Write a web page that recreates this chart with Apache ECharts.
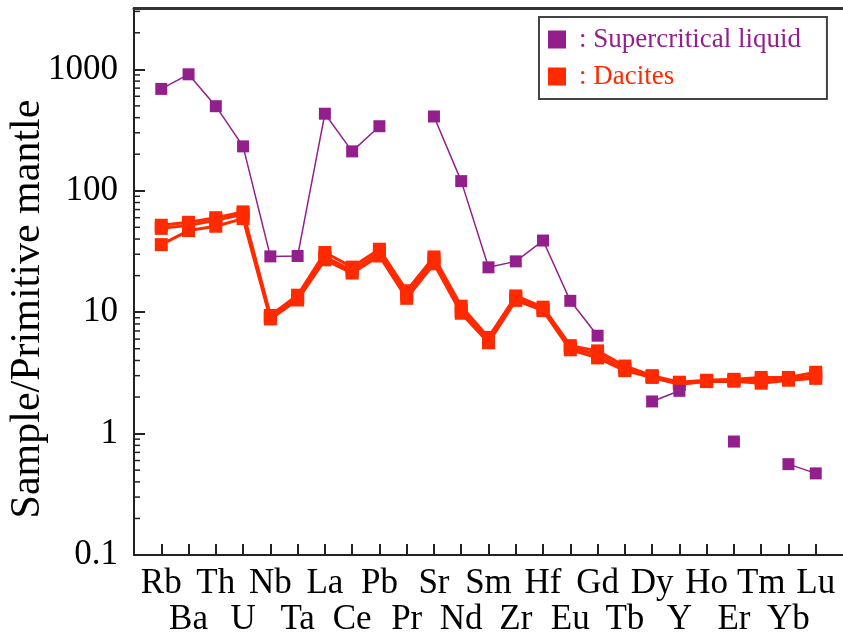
<!DOCTYPE html>
<html>
<head>
<meta charset="utf-8">
<script src="https://cdn.jsdelivr.net/npm/echarts@6/dist/echarts.min.js"></script>
<style>
html,body{margin:0;padding:0;background:#fff;}
#chart{width:843px;height:637px;}
</style>
</head>
<body>
<div id="chart"></div>
<script>
const elements = ['Rb','Ba','Th','U','Nb','Ta','La','Ce','Pb','Pr','Sr','Nd','Sm','Zr','Hf','Eu','Gd','Tb','Dy','Y','Ho','Er','Tm','Yb','Lu'];
const supercritical = [690, 910, 497, 232, 28.8, 29, 431, 211, 340, null, 409, 120, 23.4, 26.2, 38.9, 12.4, 6.4, null, 1.84, 2.25, null, 0.86, null, 0.56, 0.47];
const daciteA = [52, 55, 60, 67, 9.4, 13.8, 31, 23.5, 33, 15, 28.5, 11.2, 6.2, 13.6, 11, 5.3, 4.8, 3.6, 3.0, 2.65, 2.75, 2.8, 2.9, 2.9, 3.2];
const daciteB = [49, 52, 57, 64, 9.1, 13.2, 28.5, 22, 31, 14, 27, 10.3, 5.9, 13, 10.6, 5.1, 4.5, 3.4, 2.95, 2.6, 2.7, 2.75, 2.75, 2.8, 3.0];
const daciteC = [36, 47, 51, 59, 8.8, 12.6, 27, 21, 29, 13, 25, 9.8, 5.6, 12.5, 10.3, 4.9, 4.2, 3.3, 2.9, 2.55, 2.68, 2.7, 2.6, 2.75, 2.85];
const yMajorTicks = [0.1, 1, 10, 100, 1000];
const yMinorTicks = [0.2,0.3,0.4,0.5,0.6,0.7,0.8,0.9, 2,3,4,5,6,7,8,9, 20,30,40,50,60,70,80,90, 200,300,400,500,600,700,800,900, 2000,3000];

const PURPLE = '#931F8D';
const RED = '#FF2A00';
const AXIS = '#222';
const FONT = 'Liberation Serif';

const toPairs = arr => arr.map((v, i) => [i, v]);

const chart = echarts.init(document.getElementById('chart'), null, {renderer: 'canvas'});

const dacite = (data) => ({
  name: 'Dacites', type: 'line', data: toPairs(data),
  symbol: 'rect', symbolSize: 13, connectNulls: false,
  itemStyle: {color: RED}, lineStyle: {color: RED, width: 3}, z: 3
});

const idx = elements.map((e, i) => i);
const evenIdx = idx.filter(i => i % 2 === 0);
const oddIdx = idx.filter(i => i % 2 === 1);
const labelFmt = v => { const i = Math.round(v); return (i >= 0 && i < elements.length) ? elements[i] : ''; };
const labelStyle = {fontFamily: FONT, fontSize: 35, color: '#000', showMinLabel: true, showMaxLabel: true, hideOverlap: false, formatter: labelFmt};

chart.setOption({
  animation: false,
  grid: {left: 134, right: 0, top: 8, bottom: 82, containLabel: false},
  xAxis: [{
    type: 'value', min: -1, max: 25, interval: 1,
    axisLine: {show: true, onZero: false, lineStyle: {color: AXIS, width: 2}},
    axisTick: {show: true, inside: true, length: 11, lineStyle: {color: AXIS, width: 2}, customValues: idx},
    axisLabel: Object.assign({customValues: evenIdx, margin: 11}, labelStyle),
    splitLine: {show: false}
  }, {
    type: 'value', min: -1, max: 25, position: 'bottom',
    axisLine: {show: false}, axisTick: {show: false},
    axisLabel: Object.assign({customValues: oddIdx, margin: 47}, labelStyle),
    splitLine: {show: false}
  }, {
    type: 'value', min: -1, max: 25, position: 'top',
    axisLine: {show: true, onZero: false, lineStyle: {color: '#333', width: 3}},
    axisTick: {show: false}, axisLabel: {show: false}, splitLine: {show: false}
  }],
  yAxis: {
    type: 'log', logBase: 10, min: 0.1, max: 3200,
    axisLine: {show: true, onZero: false, lineStyle: {color: AXIS, width: 2}},
    axisTick: {show: true, inside: true, length: 11, lineStyle: {color: AXIS, width: 2}, customValues: yMajorTicks},
    axisLabel: {
      customValues: yMajorTicks,
      margin: 16, fontFamily: FONT, fontSize: 35, color: '#000',
      formatter: v => String(v)
    },
    splitLine: {show: false}, minorTick: {show: false}
  },
  legend: {
    data: [
      {name: 'Supercritical liquid', textStyle: {color: PURPLE}},
      {name: 'Dacites', textStyle: {color: RED}}
    ],
    orient: 'vertical', left: 539, top: 17,
    icon: 'rect', itemWidth: 18, itemHeight: 18, itemGap: 10,
    padding: [9, 26, 9, 9],
    borderColor: '#444', borderWidth: 2, backgroundColor: '#fff',
    formatter: name => ': ' + name,
    textStyle: {fontFamily: FONT, fontSize: 27, padding: [0, 0, 0, 8]},
    selectedMode: false
  },
  graphic: [{
    type: 'text', x: 28, y: 309, rotation: Math.PI / 2,
    style: {text: 'Sample/Primitive mantle', fontFamily: FONT, fontSize: 42, fill: '#000', align: 'center', verticalAlign: 'middle'}
  }],
  series: [
    {
      type: 'custom', name: 'minorTicks', silent: true,
      data: yMinorTicks.map(v => [-1, v]),
      renderItem: (params, api) => {
        const p = api.coord([api.value(0), api.value(1)]);
        return {type: 'line', shape: {x1: p[0], y1: p[1], x2: p[0] + 6, y2: p[1]}, style: {stroke: AXIS, lineWidth: 1.5}};
      }
    },
    dacite(daciteA), dacite(daciteB), dacite(daciteC),
    {
      name: 'Supercritical liquid', type: 'line', data: toPairs(supercritical),
      symbol: 'rect', symbolSize: 12, connectNulls: false,
      itemStyle: {color: PURPLE}, lineStyle: {color: PURPLE, width: 1.5}, z: 4
    }
  ]
});
</script>
</body>
</html>
